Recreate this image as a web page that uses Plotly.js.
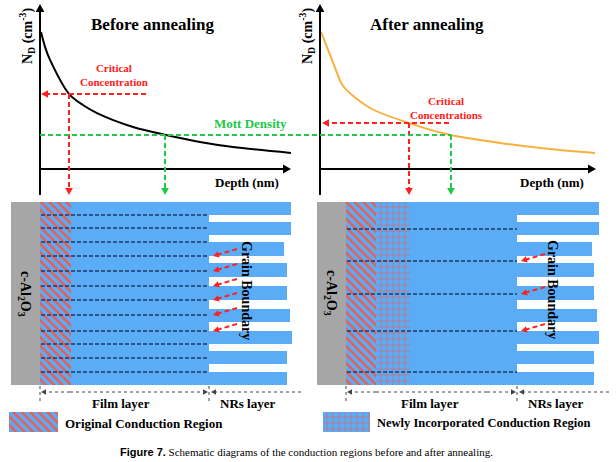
<!DOCTYPE html>
<html>
<head>
<meta charset="utf-8">
<script src="https://cdn.plot.ly/plotly-3.0.1.min.js"></script>
<style>html,body{margin:0;padding:0;background:#fff}#fig{width:616px;height:462px}</style>
</head>
<body>
<div id="fig"></div>
<script>
// donor concentration profiles, arbitrary units (depth as % of axis)
var depth_before = [0.4, 2.0, 4.0, 11.6, 17.1, 22.7, 37.1, 50.2, 63.7, 76.9, 100];
var nd_before    = [83.5, 74.5, 66.5, 45.7, 39.0, 34.1, 25.6, 20.7, 16.5, 13.4, 9.8];
var depth_after  = [0.4, 4.7, 8.4, 18.2, 32.4, 47.6, 65.5, 83.6, 100];
var nd_after     = [83.5, 65.2, 50.6, 37.2, 28.0, 20.7, 15.9, 12.2, 9.8];

// nanorod rows (centre y, px) and their lengths past the film edge
var nr_rows         = [208.5, 228.5, 249, 270, 293, 315.5, 337.5, 357.5, 378.5];
var nr_len_before   = [82, 82, 75, 78, 78, 81, 83, 78, 78];
var nr_len_after    = [82, 82, 75, 77, 77, 80, 82, 77, 77];

// grain boundaries inside the film (y, px) and the ones that get an arrow
var gb_before       = [215, 228, 242, 256, 271, 286, 300, 315, 331, 344, 358, 372];
var gb_arrow_before = [256, 271, 286, 300, 315, 331];
var gb_after        = [229, 261, 294, 331, 372];
var gb_arrow_after  = [261, 294, 331];

var W = 616, H = 462;
var blue = '#5aacf7', red = '#ff2020', green = '#22c84a', navy = '#1f3864',
    hatch_red = '#f05a4a', gray = '#a6a6a6', orange = '#f7b03c';
var serif = 'Liberation Serif';

var shapes = [], annotations = [];

function seg(x0, y0, x1, y1, color, width, dash, layer) {
    shapes.push({type: 'line', xref: 'x', yref: 'y', x0: x0, y0: y0, x1: x1, y1: y1,
        layer: layer || 'above', line: {color: color, width: width, dash: dash || 'solid'}});
}
function head(x, y, dx, dy, size, color) {
    var L = Math.hypot(dx, dy), ux = dx / L, uy = dy / L, px = -uy, py = ux;
    var bx = x - ux * size, by = y - uy * size, w = size * 0.55;
    shapes.push({type: 'path', xref: 'x', yref: 'y', layer: 'above',
        path: 'M' + x + ',' + y + ' L' + (bx + px * w) + ',' + (by + py * w) +
              ' L' + (bx - px * w) + ',' + (by - py * w) + ' Z',
        fillcolor: color, line: {width: 0}});
}
// arrow from (x0,y0) to tip (x1,y1)
function arrow(x0, y0, x1, y1, color, width, dash, size) {
    var L = Math.hypot(x1 - x0, y1 - y0);
    var ex = x1 - (x1 - x0) / L * size * 0.8, ey = y1 - (y1 - y0) / L * size * 0.8;
    seg(x0, y0, ex, ey, color, width, dash);
    head(x1, y1, x1 - x0, y1 - y0, size, color);
}
function txt(x, y, t, size, color, opt) {
    opt = opt || {};
    annotations.push({xref: 'x', yref: 'y', x: x, y: y, text: t, showarrow: false,
        xanchor: opt.xanchor || 'center', yanchor: 'middle', textangle: opt.angle || 0,
        font: {family: opt.family || serif, size: size, color: color || '#000', weight: opt.weight || 'bold'}});
}

// ---- top panels: axes ----
[40, 320].forEach(function (ax, i) {
    var xend = i ? 596 : 291;
    arrow(ax, 195, ax, 4, '#000', 2, 'solid', 8);
    arrow(ax, 169, xend, 169, '#000', 2, 'solid', 8);
});
txt(152, 24, 'Before annealing', 17);
txt(427, 24, 'After annealing', 17);
txt(27, 36, 'N<sub>D</sub> (cm<sup>-3</sup>)', 14, '#000', {angle: -90});
txt(307, 36, 'N<sub>D</sub> (cm<sup>-3</sup>)', 14, '#000', {angle: -90});
txt(247, 182, 'Depth (nm)', 13);
txt(552, 182, 'Depth (nm)', 13);

// critical concentration / Mott density guides
arrow(146, 94, 41, 94, red, 2, '5px,3px', 7);
arrow(69, 94, 69, 195, red, 2, '5px,3px', 7);
txt(114, 75, 'Critical<br>Concentration', 11, red);
arrow(449, 123, 322, 123, red, 2, '5px,3px', 7);
arrow(409, 123, 409, 195, red, 2, '5px,3px', 7);
txt(446, 108, 'Critical<br>Concentrations', 11, red);
seg(40, 135, 451, 135, green, 2, '5px,3px');
arrow(165, 135, 165, 195, green, 2, '5px,3px', 7);
arrow(451, 135, 451, 195, green, 2, '5px,3px', 7);
txt(250, 123, 'Mott Density', 13, green);

// ---- bottom panels ----
function panel(sx0, fx0, fx1, gb, gbArrows) {
    shapes.push({type: 'rect', xref: 'x', yref: 'y', layer: 'below', x0: sx0, x1: fx0, y0: 202, y1: 385,
        fillcolor: gray, line: {width: 0}});
    shapes.push({type: 'rect', xref: 'x', yref: 'y', layer: 'below', x0: fx0, x1: fx1, y0: 202, y1: 385,
        fillcolor: blue, line: {width: 0}});
    gb.forEach(function (y) { seg(fx0 + 1, y, fx1, y, navy, 1.5, '4px,2px'); });
    gbArrows.forEach(function (y) { arrow(fx1 + 28, y - 7, fx1 + 4, y, red, 2, '5px,3px', 6); });
    // dimension arrows
    seg(fx0, 386, fx0, 401, '#444', 1, 'dot');
    seg(fx1, 386, fx1, 401, '#444', 1, 'dot');
    arrow(fx0 + 30, 392, fx0 + 1, 392, '#444', 1, 'dot', 5);
    arrow(fx1 - 30, 392, fx1 - 1, 392, '#444', 1, 'dot', 5);
    seg(fx0 + 30, 392, fx1 - 30, 392, '#444', 1, 'dot');
    arrow(fx1 + 92, 392, fx1 + 2, 392, '#444', 1, 'dot', 5);
}
panel(11, 40, 209, gb_before, gb_arrow_before);
panel(317, 346, 517, gb_after, gb_arrow_after);

txt(25, 294, 'c-Al<sub>2</sub>O<sub>3</sub>', 14, '#000', {angle: 90});
txt(331, 293, 'c-Al<sub>2</sub>O<sub>3</sub>', 14, '#000', {angle: 90});
txt(247, 290, 'Grain Boundary', 14, '#000', {angle: 90});
txt(553, 289, 'Grain Boundary', 14, '#000', {angle: 90});
txt(121, 403, 'Film layer', 13);
txt(430, 403, 'Film layer', 13);
txt(247, 403, 'NRs layer', 13);
txt(555, 403, 'NRs layer', 13);

// legend + caption
txt(63, 423, 'Original Conduction Region', 13, '#000', {xanchor: 'left'});
txt(375, 423, 'Newly Incorporated Conduction Region', 12.5, '#000', {xanchor: 'left'});
txt(306, 452, '<span style="font-family:Liberation Sans;font-weight:bold">Figure 7.</span>' +
    ' Schematic diagrams of the conduction regions before and after annealing.', 11, '#000', {weight: 'normal'});

var diag = {shape: '\\', bgcolor: blue, fgcolor: hatch_red, size: 6, solidity: 0.4, fillmode: 'replace'};
var grid = {shape: '+', bgcolor: blue, fgcolor: hatch_red, size: 6, solidity: 0.18, fillmode: 'replace'};

function vbar(x0, x1, y0, y1, pattern) {
    return {type: 'bar', x: [(x0 + x1) / 2], y: [y1 - y0], base: [y0], width: [x1 - x0],
        xaxis: 'x', yaxis: 'y', hoverinfo: 'skip', showlegend: false,
        marker: {color: blue, line: {width: 0}, pattern: pattern}};
}

var data = [
    {type: 'bar', orientation: 'h', y: nr_rows, x: nr_len_before, base: 209, width: 13.5,
        xaxis: 'x', yaxis: 'y', marker: {color: blue, line: {width: 0}}, hoverinfo: 'skip', showlegend: false},
    {type: 'bar', orientation: 'h', y: nr_rows, x: nr_len_after, base: 517, width: 13.5,
        xaxis: 'x', yaxis: 'y', marker: {color: blue, line: {width: 0}}, hoverinfo: 'skip', showlegend: false},
    vbar(40, 71, 202, 385, diag),
    vbar(346, 376, 202, 385, diag),
    vbar(376, 410, 202, 385, grid),
    vbar(9, 58, 412, 432, diag),
    vbar(323, 370, 412, 432, grid),
    {x: depth_before, y: nd_before, type: 'scatter', mode: 'lines', xaxis: 'x2', yaxis: 'y2',
        line: {color: '#000', width: 2, shape: 'spline', smoothing: 0.8}, hoverinfo: 'skip', showlegend: false},
    {x: depth_after, y: nd_after, type: 'scatter', mode: 'lines', xaxis: 'x3', yaxis: 'y3',
        line: {color: orange, width: 2, shape: 'spline', smoothing: 0.8}, hoverinfo: 'skip', showlegend: false}
];

var hidden = {visible: false, showgrid: false, zeroline: false, fixedrange: true};
var ydom = [(H - 169) / H, (H - 5) / H];
var layout = {
    width: W, height: H,
    margin: {t: 0, l: 0, r: 0, b: 0, pad: 0},
    paper_bgcolor: '#fff', plot_bgcolor: 'rgba(0,0,0,0)',
    barmode: 'overlay', bargap: 0,
    showlegend: false,
    xaxis: Object.assign({domain: [0, 1], range: [0, W]}, hidden),
    yaxis: Object.assign({domain: [0, 1], range: [H, 0]}, hidden),
    xaxis2: Object.assign({domain: [40 / W, 291 / W], range: [0, 100], anchor: 'y2'}, hidden),
    yaxis2: Object.assign({domain: ydom, range: [0, 100], anchor: 'x2'}, hidden),
    xaxis3: Object.assign({domain: [320 / W, 595 / W], range: [0, 100], anchor: 'y3'}, hidden),
    yaxis3: Object.assign({domain: ydom, range: [0, 100], anchor: 'x3'}, hidden),
    shapes: shapes,
    annotations: annotations
};

Plotly.newPlot('fig', data, layout, {displayModeBar: false, staticPlot: true});
</script>
</body>
</html>
